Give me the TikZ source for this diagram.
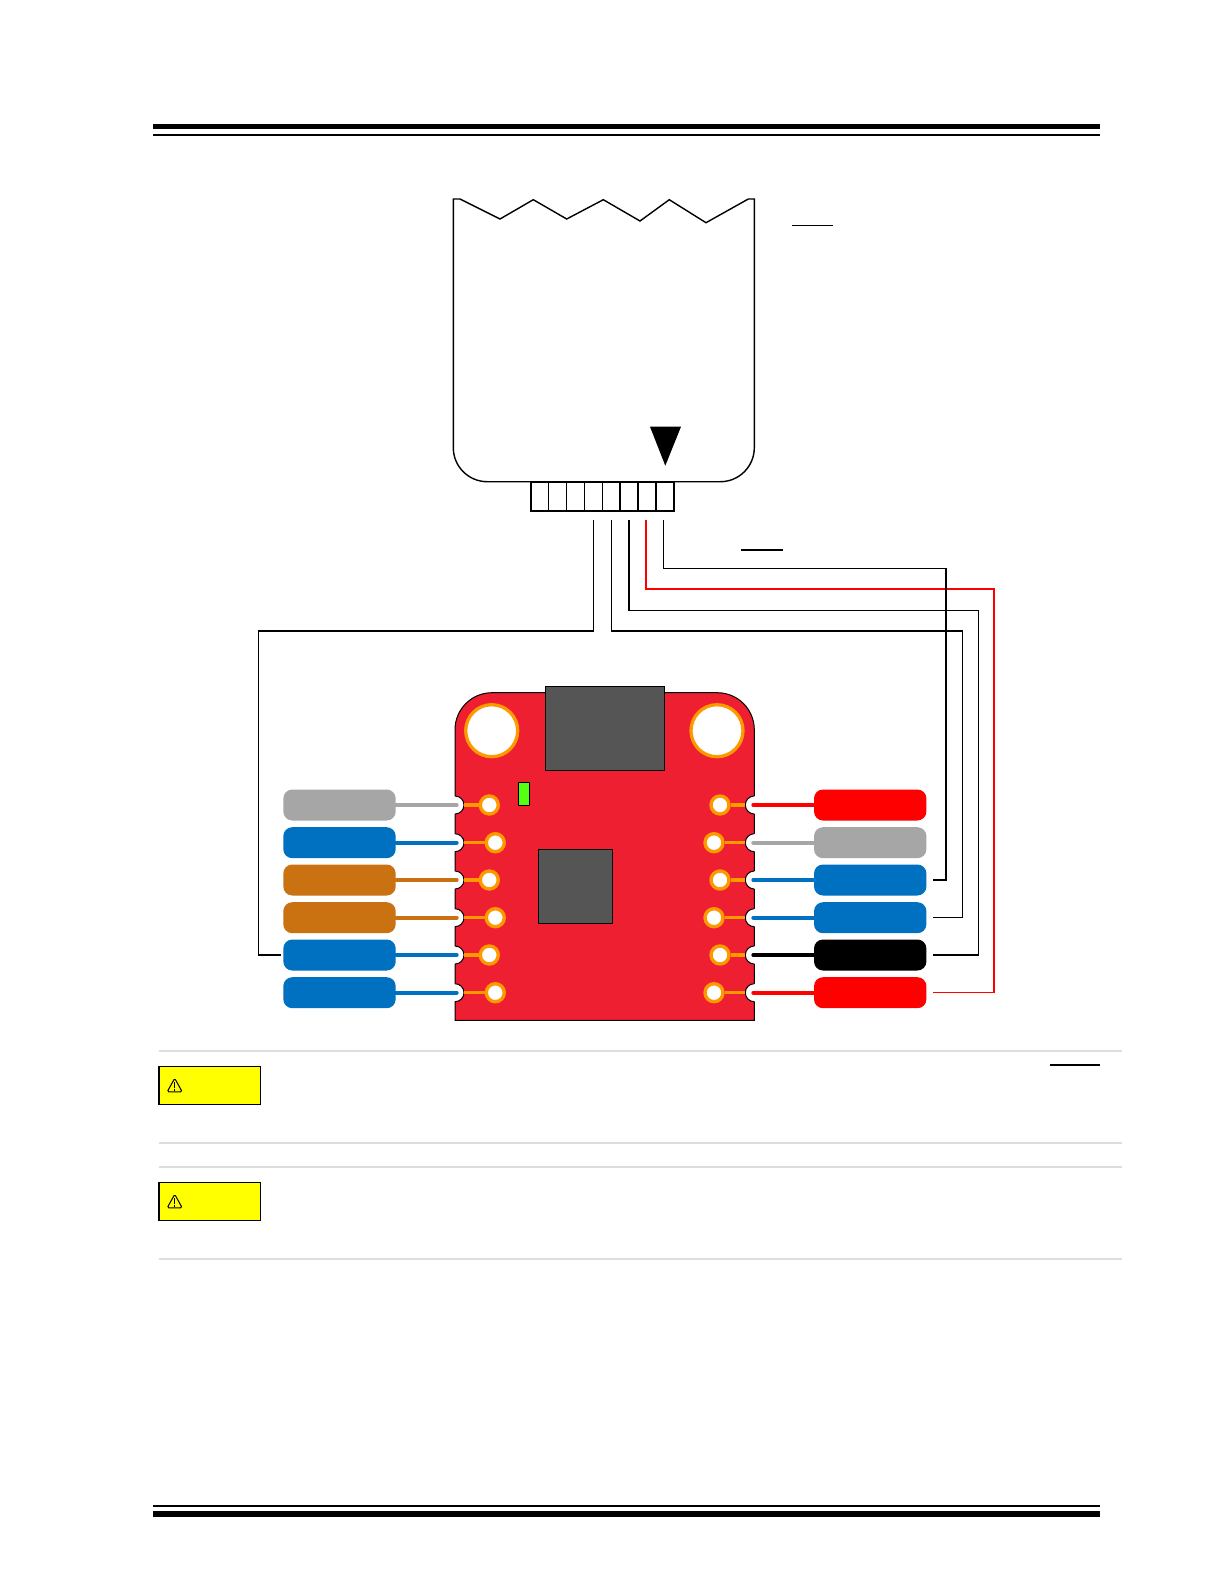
\documentclass[tikz,border=0pt]{standalone}
\usepackage{xcolor}
\usepackage{tikz}
\usetikzlibrary{positioning}
\definecolor{pcbred}{HTML}{EE1F30}
\definecolor{padorange}{HTML}{FF9900}
\definecolor{wiregrey}{HTML}{A6A6A6}
\definecolor{wireblue}{HTML}{0070C0}
\definecolor{wirebrown}{HTML}{CA7112}
\definecolor{wirered}{HTML}{FF0000}
\definecolor{chipgrey}{HTML}{555555}
\definecolor{ledgreen}{HTML}{55FF11}
\definecolor{rulegrey}{HTML}{DDDDDD}
\definecolor{flagyellow}{HTML}{FFFF00}
\tikzset{
  pill/.style={rounded corners=9,minimum width=112.4,minimum height=31,inner sep=0},
  pad/.style={circle,draw=padorange,fill=white,line width=3.4,minimum size=18,inner sep=0},
  hole/.style={circle,draw=padorange,fill=white,line width=3.3,minimum size=52,inner sep=0},
  chip/.style={draw=black,fill=chipgrey,line width=1,inner sep=0},
  cell/.style={draw=black,line width=1.6,minimum width=17.9,minimum height=29,inner sep=0},
  sealed/.style={draw=black,line width=1.4},
  caution/.style={draw=black,fill=flagyellow,line width=1.2,minimum width=101.3,minimum height=38,inner sep=0},
  warnsign/.pic={
    \draw[black,line width=1,rounded corners=1.5,line join=round] (0,-7) -- (7.5,6.5) -- (-7.5,6.5) -- cycle;
    \draw[black,line width=1.3] (0,-3) -- (0,2.5) (0,3.8) -- (0,5.2);
  }
}
\begin{document}
\begin{tikzpicture}[x=1pt,y=-1pt]
  \useasboundingbox[fill=white] (0,0) rectangle (1225,1585);

  % page rules
  \fill (153,124) rectangle (1100,129);
  \fill (153,134) rectangle (1100,136);
  \fill (153,1505) rectangle (1100,1507);
  \fill (153,1511) rectangle (1100,1517);
  \foreach \y in {1050.7,1142.7,1166.7,1258.7}
    \draw[rulegrey,line width=2] (159,\y) -- (1122,\y);

  % torn sheet with socket
  \draw[sealed] (754,199) -- (748.3,199) -- (706,222.7) -- (669.3,199.7) -- (640,221) -- (603.3,199.7)
     -- (566.7,219) -- (533.3,199.7) -- (500,219) -- (460,199) -- (453.3,199) -- (453.3,400)
     [rounded corners=34] -- (453.3,481.7) -- (754.3,481.7) -- (754.3,400) [sharp corners] -- (754.3,199) -- cycle;
  \foreach \i in {1,...,8}
    \node[cell,fill=white] (cell\i) at ({530.7+17.9*(\i-0.5)},496.2) {};
  \fill (650,426.7) -- (681,426.7) -- (665.3,465.7) -- cycle;

  % overbars
  \draw[line width=1.5] (791.7,225.7) -- (832.5,225.7);
  \draw[line width=1.5] (741,550) -- (782.7,550);
  \draw[line width=1.5] (1050,1065) -- (1100,1065);

  % board
  \draw[fill=pcbred,line width=1] (455,1020.4) -- (455,800) [rounded corners=37] -- (455,692.7)
     -- (754.3,692.7) -- (754.3,800) [sharp corners] -- (754.3,1020.4) -- cycle;
  \node[hole] (holeL) at (491.7,730.7) {};
  \node[hole] (holeR) at (717,730.7) {};
  \node[chip,minimum width=119,minimum height=84] (usb) at (604.8,728.3) {};
  \node[chip,minimum width=74.2,minimum height=74] (mcu) at (575.4,886.3) {};
  \node[draw=black,fill=ledgreen,line width=1,minimum width=11,minimum height=23,inner sep=0] (led) at (523.8,793.8) {};

  % left column
  \foreach \i/\y/\px/\col in {1/805/489.3/wiregrey,2/842.7/495.3/wireblue,3/880/489.3/wirebrown,
                              4/917.7/495.3/wirebrown,5/955/489.3/wireblue,6/992.7/495.3/wireblue} {
    \fill[white] (455,\y) circle (9);
    \draw[line width=1] (455,\y-9) arc (-90:90:9);
    \coordinate (portL\i) at (456.7,\y);
    \coordinate (traceL\i) at (464,\y);
    \node[pill,fill=\col] (pillL\i) at (339.5,\y) {};
    \node[pad] (padL\i) at (\px,\y) {};
    \draw[\col,line width=4,line cap=round] (pillL\i) -- (portL\i);
    \draw[padorange,line width=3.2] (traceL\i) -- (padL\i);
  }

  % right column
  \foreach \i/\y/\px/\col in {1/805/720/wirered,2/842.7/714/wiregrey,3/880/720/wireblue,
                              4/917.7/714/wireblue,5/955/720/black,6/992.7/714/wirered} {
    \fill[white] (754.3,\y) circle (9);
    \draw[line width=1] (754.3,\y-9) arc (-90:-270:9);
    \coordinate (portR\i) at (753.3,\y);
    \coordinate (traceR\i) at (745.3,\y);
    \node[pill,fill=\col] (pillR\i) at (870.2,\y) {};
    \node[pad] (padR\i) at (\px,\y) {};
    \draw[\col,line width=4,line cap=round] (pillR\i) -- (portR\i);
    \draw[padorange,line width=3.2] (traceR\i) -- (padR\i);
    \coordinate (endR\i) at (933.3,\y);
  }

  % cable from socket to pills
  \coordinate (outA) at (593.3,520);
  \coordinate (outB) at (611.7,520);
  \coordinate (outC) at (629,520);
  \coordinate (outD) at (646,520);
  \coordinate (outE) at (663.7,520);
  \coordinate (endL5) at (281,955);
  \draw[line width=1.25] (outA) -- (593.3,631) -- (258.8,631) -- (258.8,955) -- (endL5);
  \draw[line width=1.25] (outB) -- (611.7,631) -- (962.3,631) -- (962.3,917.7) -- (endR4);
  \draw[line width=1.25] (outC) -- (629,610.3) -- (978.3,610.3) -- (978.3,955) -- (endR5);
  \draw[wirered,line width=1.25] (outD) -- (646,589) -- (994,589) -- (994,992.7) -- (endR6);
  \draw[line width=1.25] (outE) -- (663.7,568.3) -- (946,568.3) -- (946,880) -- (endR3);

  % caution flags
  \node[caution] (flagA) at (209.6,1085.3) {};
  \node[caution] (flagB) at (209.6,1201.3) {};
  \pic at (174.7,1085.3) {warnsign};
  \pic at (174.7,1201.3) {warnsign};
\end{tikzpicture}
\end{document}
